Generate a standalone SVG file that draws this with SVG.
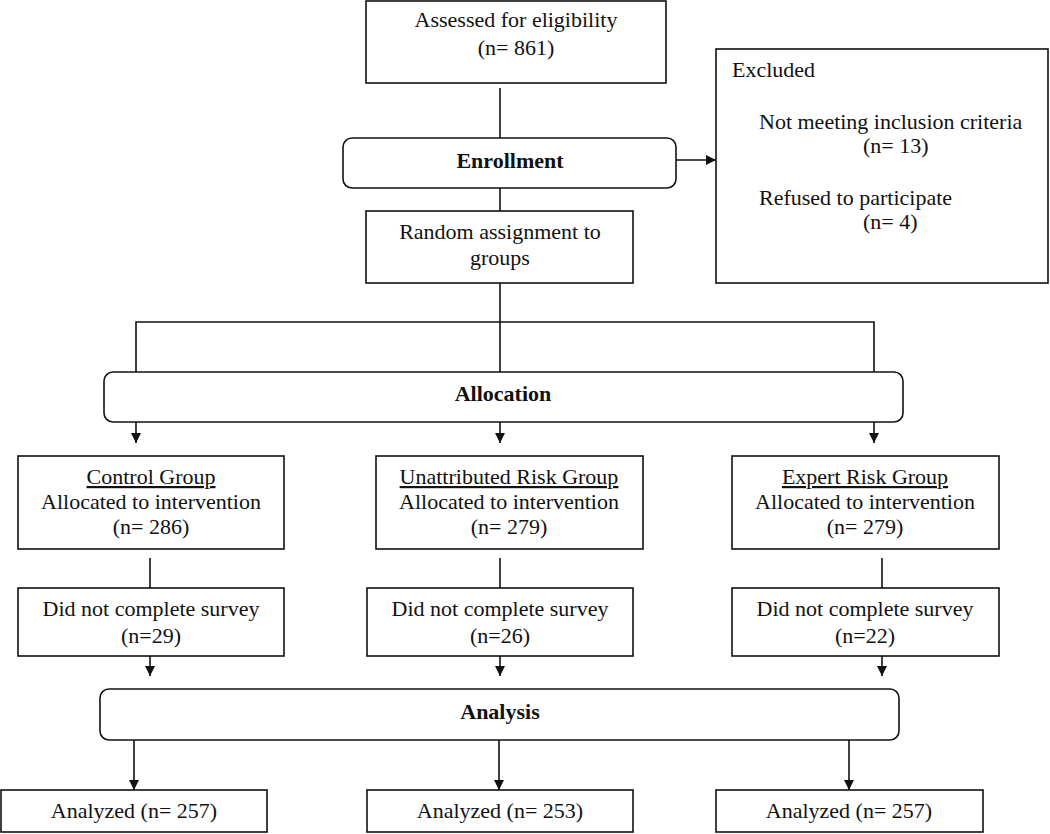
<svg xmlns="http://www.w3.org/2000/svg" width="1050" height="834" viewBox="0 0 1050 834">
<defs>
<marker id="ah" viewBox="0 0 10 10" refX="10" refY="5" markerWidth="10" markerHeight="10" markerUnits="userSpaceOnUse" orient="auto">
<path d="M0,0 L10,5 L0,10 z" fill="#111"/>
</marker>
<style>
rect{fill:#fff;stroke:#111;stroke-width:1.6}
text{font-family:"Liberation Serif","Times New Roman",serif;font-size:22px;fill:#111}
.c{text-anchor:middle}
.b{font-weight:bold}
.u{text-decoration:underline}
#connectors line,#connectors polyline{stroke:#111;stroke-width:1.6;fill:none}
.arr{marker-end:url(#ah)}
</style>
</defs>
<rect x="0" y="0" width="1050" height="834" style="stroke:none;fill:#fff"/>
<g id="connectors">
<line x1="500" y1="88" x2="500" y2="138"/>
<line class="arr" x1="676" y1="160" x2="716" y2="160"/>
<line x1="500" y1="188" x2="500" y2="211"/>
<line x1="500" y1="283" x2="500" y2="372"/>
<polyline points="136,372 136,322 874,322 874,372"/>
<line class="arr" x1="136" y1="422" x2="136" y2="443"/>
<line class="arr" x1="500" y1="422" x2="500" y2="443"/>
<line class="arr" x1="874" y1="422" x2="874" y2="443"/>
<line x1="150" y1="558" x2="150" y2="588"/>
<line x1="500" y1="558" x2="500" y2="588"/>
<line x1="882" y1="558" x2="882" y2="588"/>
<line class="arr" x1="150" y1="656" x2="150" y2="676"/>
<line class="arr" x1="500" y1="656" x2="500" y2="676"/>
<line class="arr" x1="882" y1="656" x2="882" y2="676"/>
<line class="arr" x1="134" y1="740" x2="134" y2="790"/>
<line class="arr" x1="499" y1="740" x2="499" y2="790"/>
<line class="arr" x1="849" y1="740" x2="849" y2="790"/>
</g>
<g id="assessed">
<rect x="366" y="1" width="300" height="82"/>
<text class="c" x="516" y="27">Assessed for eligibility</text>
<text class="c" x="516" y="55">(n= 861)</text>
</g>
<g id="enrollment">
<rect x="343" y="138" width="333" height="50" rx="9"/>
<text class="c b" x="510" y="168">Enrollment</text>
</g>
<g id="excluded">
<rect x="716" y="49" width="332" height="234"/>
<text x="732" y="77">Excluded</text>
<text x="759" y="129">Not meeting inclusion criteria</text>
<text x="863" y="153">(n= 13)</text>
<text x="759" y="205">Refused to participate</text>
<text x="863" y="229">(n= 4)</text>
</g>
<g id="random">
<rect x="366" y="211" width="267" height="72"/>
<text class="c" x="500" y="239">Random assignment to</text>
<text class="c" x="500" y="265">groups</text>
</g>
<g id="allocation">
<rect x="104" y="372" width="799" height="50" rx="9"/>
<text class="c b" x="503" y="401">Allocation</text>
</g>
<g id="control">
<rect x="18" y="456" width="266" height="93"/>
<text class="c u" x="151" y="484">Control Group</text>
<text class="c" x="151" y="509">Allocated to intervention</text>
<text class="c" x="151" y="534">(n= 286)</text>
</g>
<g id="unattributed">
<rect x="376" y="456" width="267" height="93"/>
<text class="c u" x="509" y="484">Unattributed Risk Group</text>
<text class="c" x="509" y="509">Allocated to intervention</text>
<text class="c" x="509" y="534">(n= 279)</text>
</g>
<g id="expert">
<rect x="732" y="456" width="267" height="93"/>
<text class="c u" x="865" y="484">Expert Risk Group</text>
<text class="c" x="865" y="509">Allocated to intervention</text>
<text class="c" x="865" y="534">(n= 279)</text>
</g>
<g id="dnc1">
<rect x="18" y="588" width="266" height="68"/>
<text class="c" x="151" y="616">Did not complete survey</text>
<text class="c" x="151" y="643">(n=29)</text>
</g>
<g id="dnc2">
<rect x="367" y="588" width="266" height="68"/>
<text class="c" x="500" y="616">Did not complete survey</text>
<text class="c" x="500" y="643">(n=26)</text>
</g>
<g id="dnc3">
<rect x="732" y="588" width="267" height="68"/>
<text class="c" x="865" y="616">Did not complete survey</text>
<text class="c" x="865" y="643">(n=22)</text>
</g>
<g id="analysis">
<rect x="100" y="689" width="799" height="51" rx="9"/>
<text class="c b" x="500" y="719">Analysis</text>
</g>
<g id="analyzed1">
<rect x="1" y="790" width="266" height="42"/>
<text class="c" x="134" y="818">Analyzed (n= 257)</text>
</g>
<g id="analyzed2">
<rect x="367" y="790" width="266" height="42"/>
<text class="c" x="500" y="818">Analyzed (n= 253)</text>
</g>
<g id="analyzed3">
<rect x="716" y="790" width="267" height="42"/>
<text class="c" x="849" y="818">Analyzed (n= 257)</text>
</g>
</svg>
